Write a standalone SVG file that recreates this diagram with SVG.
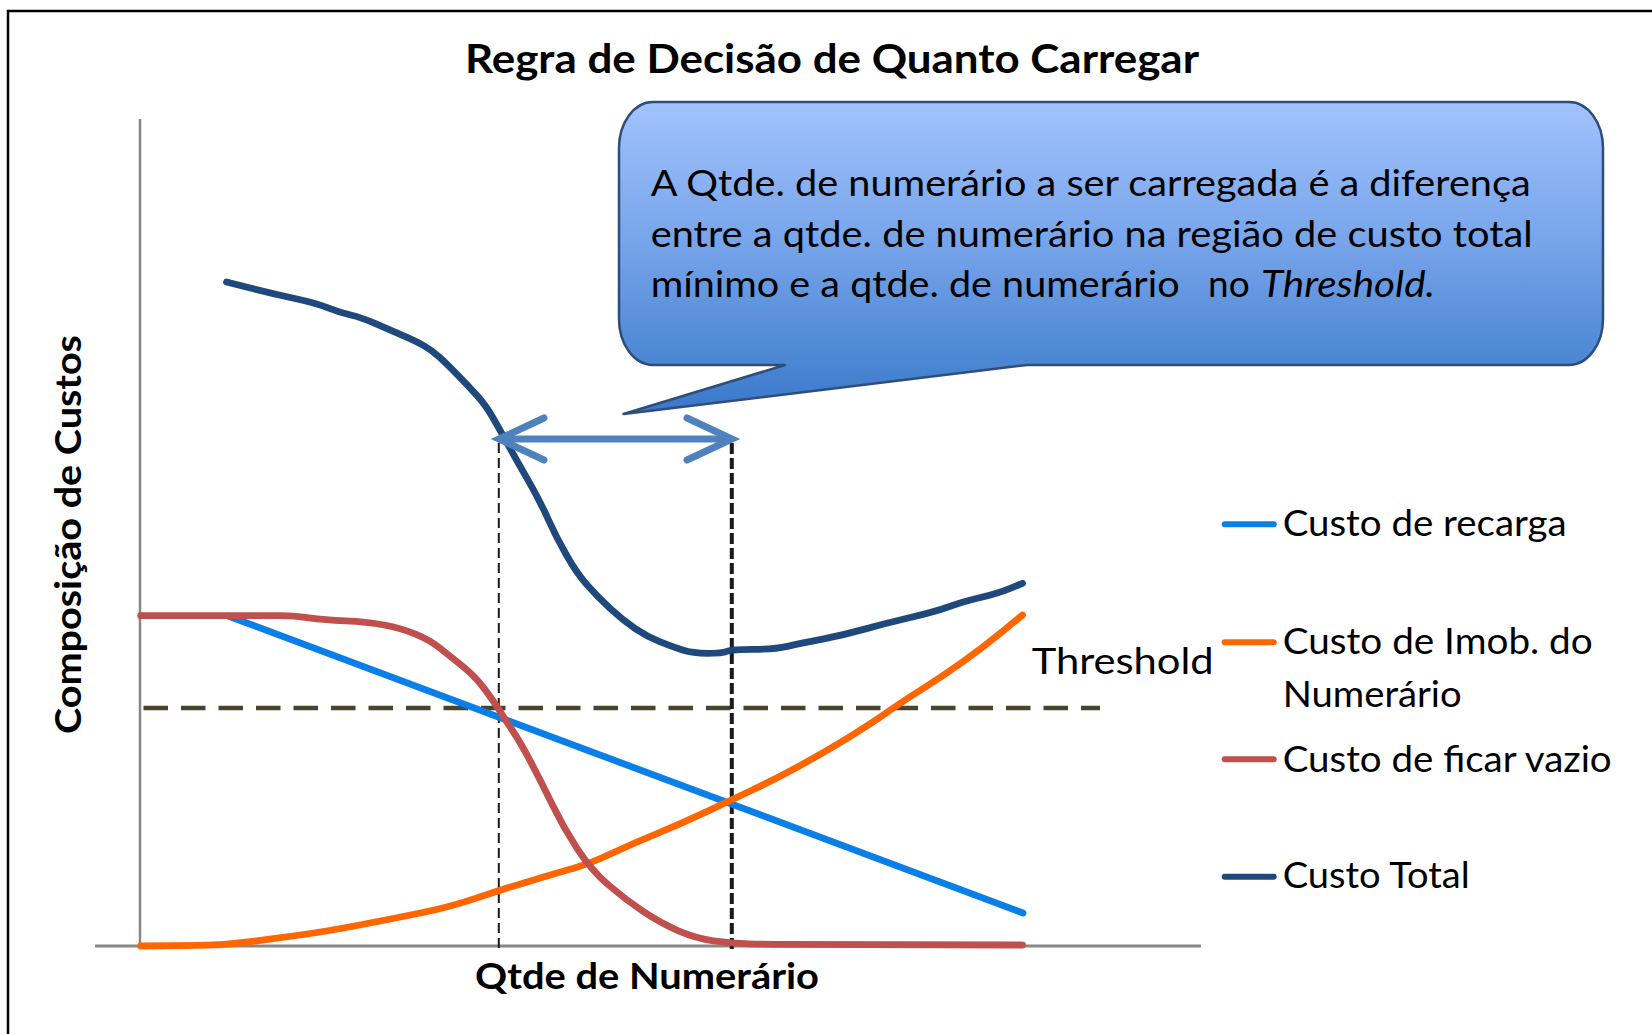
<svg xmlns="http://www.w3.org/2000/svg" width="1652" height="1034" viewBox="0 0 1652 1034">
  <style>
    text { font-family: Lato, "Liberation Sans", sans-serif; fill: #000; }
    .b { font-weight: bold; }
    .curve { fill: none; stroke-width: 6.8; stroke-linejoin: round; stroke-linecap: round; }
    .axis { stroke: #878787; fill: none; }
    .sw { stroke-width: 6; stroke-linecap: round; fill: none; }
  </style>
  <defs>
    <linearGradient id="cg" gradientUnits="userSpaceOnUse" x1="0" y1="102" x2="0" y2="414">
      <stop offset="0" stop-color="#a2c3fd"/>
      <stop offset="0.45" stop-color="#77a4ea"/>
      <stop offset="0.84" stop-color="#4a86d2"/>
      <stop offset="1" stop-color="#3a77cb"/>
    </linearGradient>
  </defs>

  <rect width="1652" height="1034" fill="#fff"/>
  <path d="M8,1040 V11 H1660" fill="none" stroke="#000" stroke-width="2.5"/>

  <g id="title">
    <text class="b" x="465" y="73" font-size="41" textLength="734" lengthAdjust="spacingAndGlyphs">Regra de Decisão de Quanto Carregar</text>
  </g>

  <g id="axes">
    <line class="axis" x1="140" y1="119" x2="140" y2="946" stroke-width="2.5"/>
    <line class="axis" x1="95" y1="946" x2="1201" y2="946" stroke-width="3"/>
    <text class="b" font-size="37" transform="translate(81,734) rotate(-90)" textLength="399" lengthAdjust="spacingAndGlyphs">Composição de Custos</text>
    <text class="b" x="475" y="989" font-size="37" textLength="344" lengthAdjust="spacingAndGlyphs">Qtde de Numerário</text>
  </g>

  <g id="connectors">
    <line id="threshold-line" x1="143.5" y1="708" x2="1100" y2="708" stroke="#4a442a" stroke-width="4.5" stroke-dasharray="24.5 13"/>
    <line x1="498.8" y1="443" x2="498.8" y2="950" stroke="#1a1a1a" stroke-width="2" stroke-dasharray="10 5"/>
    <line x1="731.8" y1="443" x2="731.8" y2="950" stroke="#1a1a1a" stroke-width="4" stroke-dasharray="11 4"/>
  </g>

  <g id="series">
    <path id="custo-recarga" class="curve" stroke="#0a7fe8" d="M228,616 L1023,913"/>
    <path id="custo-imob" class="curve" stroke="#ff6600" d="M140.7,946 L200,945.4 Q226,945 250.7,941.65 Q275.4,938.3 299.95,935 Q324.5,931.7 359.55,925 Q394.6,918.3 422.7,912.5 Q450.8,906.7 475.4,898.35 Q500,890 528,881.65 Q556,873.3 573.5,868.3 Q591,863.3 612,853.3 Q633,843.3 657.5,833.3 Q682,823.3 706.7,811.65 Q731.4,800 752.4,790 Q773.4,780 798,766.65 Q822.6,753.3 847.15,738.3 Q871.7,723.3 885.7,713.3 Q899.7,703.3 920.75,690 Q941.8,676.7 962.85,661.7 Q983.9,646.7 1003.2,630.85 L1022.5,615"/>
    <path id="custo-vazio" class="curve" stroke="#c0504d" d="M140.7,615.7 L280,615.7 Q293,615.7 308.75,617.85 Q324.5,620 345.55,620.85 Q366.6,621.7 384.1,625 Q401.6,628.3 415.65,634.15 Q429.7,640 440.25,648.35 Q450.8,656.7 463.05,666.7 Q475.3,676.7 484.05,688.35 Q492.8,700 498.1,708.35 Q503.4,716.7 512.2,730 Q521,743.3 531.5,763.3 Q542,783.3 552.5,805 Q563,826.7 577,848.35 Q591,870 608.5,885 Q626,900 643.5,911.65 Q661,923.3 678.5,930.8 Q696,938.3 713.7,940.8 Q731.4,943.3 748.9,943.8 Q766.4,944.3 790,944.4 L1022.5,945"/>
    <path id="custo-total" class="curve" stroke="#1f497d" stroke-width="7.2" d="M226.5,282 L250.25,288 Q274,294 294.8,298.5 Q315.6,303 328.05,307.85 Q340.5,312.7 350.75,315 Q361,317.3 375.5,323.65 Q390,330 402.5,335.35 Q415,340.7 423.35,345.35 Q431.7,350 439.85,357.5 Q448,365 458.5,375.85 Q469,386.7 477.3,395.85 Q485.6,405 492.8,417.5 Q500,430 507.3,443.35 Q514.6,456.7 527.05,478.35 Q539.5,500 547.75,518.35 Q556,536.7 566.4,555 Q576.8,573.3 587.15,585 Q597.5,596.7 609.95,608.35 Q622.4,620 634.85,628.35 Q647.3,636.7 659.65,641.7 Q672,646.7 682.5,650 Q693,653.3 707.5,653.3 Q722,653.3 727,651.3 Q732,649.3 752.7,649.3 Q773.4,649.3 787.45,646.3 Q801.5,643.3 822.55,639.15 Q843.6,635 864.65,629.15 Q885.7,623.3 910.25,617.5 Q934.8,611.7 948.85,606.7 Q962.9,601.7 980.45,597.5 Q998,593.3 1010.25,588.3 L1022.5,583.3"/>
  </g>

  <g id="double-arrow" fill="none" stroke="#4f81bd" stroke-width="7" stroke-linecap="round" stroke-linejoin="miter">
    <line x1="502" y1="439" x2="729" y2="439"/>
    <polyline points="544,418 499,439 544,460"/>
    <polyline points="687,418 732,439 687,460"/>
  </g>

  <g id="threshold-label">
    <text x="1031.7" y="674.3" font-size="36" textLength="182" lengthAdjust="spacingAndGlyphs">Threshold</text>
  </g>

  <g id="callout">
    <path d="M653,102 H1569 A34,46 0 0 1 1603,148 V319 A34,46 0 0 1 1569,365 H1027 L623.5,414 L785,365 H653 A34,46 0 0 1 619,319 V148 A34,46 0 0 1 653,102 Z" fill="url(#cg)" stroke="#2e4e7a" stroke-width="2.5" stroke-linejoin="round"/>
    <text x="650.7" y="196" font-size="37" textLength="880" lengthAdjust="spacingAndGlyphs">A Qtde. de numerário  a ser carregada é a diferença</text>
    <text x="650.7" y="247" font-size="37" textLength="882" lengthAdjust="spacingAndGlyphs">entre a qtde. de numerário  na região de custo total</text>
    <text x="650.7" y="296.7" font-size="37" textLength="529" lengthAdjust="spacingAndGlyphs">mínimo e a qtde. de numerário</text>
    <text x="1208" y="296.7" font-size="37">no</text>
    <text x="1261" y="296.7" font-size="37" font-style="italic" textLength="174" lengthAdjust="spacingAndGlyphs">Threshold.</text>
  </g>

  <g id="legend">
    <line class="sw" stroke="#0a7fe8" x1="1224.7" y1="524.3" x2="1273.7" y2="524.3"/>
    <text x="1282.7" y="536" font-size="36" textLength="284" lengthAdjust="spacingAndGlyphs">Custo de recarga</text>
    <line class="sw" stroke="#ff6600" x1="1224.7" y1="642.3" x2="1273.7" y2="642.3"/>
    <text x="1282.7" y="654.3" font-size="36" textLength="310" lengthAdjust="spacingAndGlyphs">Custo de Imob.  do</text>
    <text x="1282.7" y="707.3" font-size="36" textLength="179" lengthAdjust="spacingAndGlyphs">Numerário</text>
    <line class="sw" stroke="#c0504d" x1="1224.7" y1="759.3" x2="1273.7" y2="759.3"/>
    <text x="1282.7" y="771.7" font-size="36" textLength="329" lengthAdjust="spacingAndGlyphs">Custo de ficar vazio</text>
    <line class="sw" stroke="#1f497d" x1="1224.7" y1="876.7" x2="1273.7" y2="876.7"/>
    <text x="1282.7" y="888.3" font-size="36" textLength="187" lengthAdjust="spacingAndGlyphs">Custo Total</text>
  </g>
</svg>
